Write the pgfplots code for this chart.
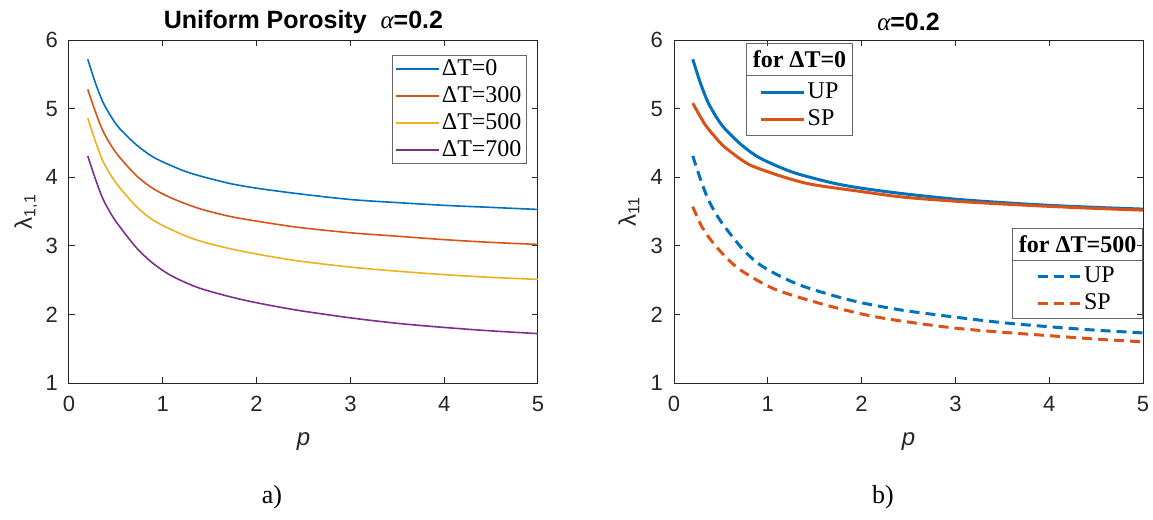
\documentclass[border=0pt]{standalone}
\usepackage{fontspec}
\setmainfont{Liberation Sans}
\newfontfamily\serif{Liberation Serif}
\usepackage{pgfplots}
\pgfplotsset{compat=1.18}
\definecolor{mb}{rgb}{0,0.447,0.741}
\definecolor{mo}{rgb}{0.85,0.325,0.098}
\definecolor{my}{rgb}{0.929,0.694,0.125}
\definecolor{mp}{rgb}{0.494,0.184,0.556}
\definecolor{ax}{rgb}{0.15,0.15,0.15}
\definecolor{lg}{rgb}{0.4,0.4,0.4}
\pgfplotsset{common/.style={
  scale only axis, width=234.5pt, height=171.5pt, anchor=south west,
  xmin=0, xmax=5, ymin=1, ymax=6, xtick={0,...,5}, ytick={1,...,6},
  tick align=inside, major tick length=3pt,
  axis line style={ax, line width=0.5pt},
  every tick/.style={ax, line width=0.5pt},
  /pgf/number format/assume math mode=true,
  tick label style={font=\fontsize{11}{13}\selectfont, text=ax},
  xticklabel style={yshift=-3pt},
  yticklabel style={xshift=-2pt},
  xlabel style={font=\fontsize{12}{14}\selectfont, text=ax, at={(axis description cs:0.5,0)}, anchor=center, yshift=-29.5pt},
  every axis title shift=0pt,
  title style={font=\bfseries\fontsize{12.5}{15}\selectfont, at={(axis description cs:0.5,1)}, anchor=center, yshift=9pt},
  legend image code/.code={\draw[##1] (0pt,0pt) -- (21.5pt,0pt);},
  legend style={font=\serif\fontsize{12}{14}\selectfont, draw=lg, line width=0.5pt,
    inner xsep=1.5pt, inner ysep=0pt,
    nodes={inner xsep=1pt, inner ysep=1.25pt, text height=8.5pt, text depth=2.5pt},
    cells={anchor=west}},
}}
\begin{document}
\begin{tikzpicture}
\useasboundingbox (0,0) rectangle (576.5pt,-260pt);
% ---------- left ----------
\begin{axis}[common, at={(34.5pt,-191.5pt)},
  title={Uniform Porosity\ \ {\serif\mdseries\itshape α}=0.2},
  xlabel={\textit{p}},
  ylabel={λ\textsubscript{1,1}},
  ylabel style={font=\fontsize{12}{14}\selectfont, text=ax, at={(axis description cs:0,0.5)}, anchor=center, yshift=21.5pt},
  legend style={at={(1,1)}, anchor=north east, xshift=-5.5pt, yshift=-7.5pt},
  every axis plot/.append style={line width=0.8pt, smooth}]
\addplot[mb] coordinates {(0.2,5.72)(0.28,5.38)(0.36,5.10)(0.45,4.88)(0.54,4.71)(0.72,4.47)(0.89,4.30)(1.07,4.18)(1.25,4.08)(1.42,4.01)(1.71,3.91)(2,3.84)(2.44,3.76)(3,3.675)(3.5,3.63)(4,3.59)(4.5,3.56)(5,3.53)};
\addlegendentry{ΔT=0}
\addplot[mo] coordinates {(0.2,5.28)(0.28,4.96)(0.36,4.68)(0.45,4.46)(0.54,4.29)(0.72,4.02)(0.89,3.84)(1.07,3.71)(1.25,3.61)(1.42,3.53)(1.71,3.43)(2,3.36)(2.44,3.27)(3,3.19)(3.5,3.14)(4,3.09)(4.5,3.05)(5,3.02)};
\addlegendentry{ΔT=300}
\addplot[my] coordinates {(0.2,4.86)(0.28,4.53)(0.36,4.24)(0.45,4.02)(0.54,3.85)(0.72,3.57)(0.89,3.38)(1.07,3.25)(1.25,3.14)(1.42,3.06)(1.71,2.96)(2,2.88)(2.44,2.78)(3,2.69)(3.5,2.63)(4,2.58)(4.5,2.54)(5,2.51)};
\addlegendentry{ΔT=500}
\addplot[mp] coordinates {(0.2,4.31)(0.28,3.98)(0.36,3.69)(0.45,3.46)(0.54,3.28)(0.72,2.97)(0.89,2.75)(1.07,2.58)(1.25,2.46)(1.42,2.37)(1.71,2.26)(2,2.17)(2.44,2.06)(3,1.95)(3.5,1.87)(4,1.81)(4.5,1.76)(5,1.72)};
\addlegendentry{ΔT=700}
\end{axis}
% ---------- right, solid ----------
\begin{axis}[common, at={(337pt,-191.5pt)},
  title={{\serif\mdseries\itshape α}=0.2},
  xlabel={\textit{p}},
  ylabel={λ\textsubscript{11}},
  ylabel style={font=\fontsize{12}{14}\selectfont, text=ax, at={(axis description cs:0,0.5)}, anchor=center, yshift=22.5pt},
  legend style={at={(0.2687,0.8066)}, anchor=center, draw=none, fill=none},
  every axis plot/.append style={line width=1.5pt, smooth}]
\addplot[mb] coordinates {(0.2,5.72)(0.28,5.38)(0.36,5.10)(0.45,4.88)(0.54,4.71)(0.72,4.47)(0.89,4.30)(1.07,4.18)(1.25,4.08)(1.42,4.01)(1.71,3.91)(2,3.84)(2.44,3.76)(3,3.68)(3.5,3.63)(4,3.59)(4.5,3.56)(5,3.535)};
\addlegendentry{UP}
\addplot[mo] coordinates {(0.2,5.08)(0.325,4.78)(0.43,4.60)(0.54,4.44)(0.78,4.20)(1,4.08)(1.25,3.97)(1.49,3.89)(2,3.79)(2.44,3.71)(3,3.65)(3.5,3.61)(4,3.575)(4.5,3.545)(5,3.52)};
\addlegendentry{SP}
\end{axis}
% ---------- right, dashed ----------
\begin{axis}[common, at={(337pt,-191.5pt)}, hide axis,
  legend style={at={(0.8582,0.2701)}, anchor=center, draw=none, fill=none},
  every axis plot/.append style={line width=1.5pt, smooth, dash pattern=on 5pt off 3pt}]
\addplot[mb] coordinates {(0.2,4.31)(0.28,3.98)(0.36,3.69)(0.45,3.46)(0.54,3.28)(0.72,2.97)(0.89,2.75)(1.07,2.60)(1.25,2.48)(1.42,2.39)(1.71,2.27)(2,2.17)(2.44,2.06)(3,1.96)(3.5,1.88)(4,1.82)(4.5,1.77)(5,1.73)};
\addlegendentry{UP}
\addplot[mo] coordinates {(0.2,3.57)(0.3,3.27)(0.43,3.02)(0.6,2.77)(0.75,2.61)(1.07,2.37)(1.53,2.17)(2.02,2.0)(2.44,1.90)(3,1.80)(3.5,1.74)(4,1.69)(4.5,1.64)(5,1.60)};
\addlegendentry{SP}
\end{axis}
% legend frames with titles
\draw[lg, line width=0.5pt] (373.35pt,-21.65pt) rectangle (426.15pt,-67.5pt);
\draw[lg, line width=0.5pt] (373.35pt,-37.5pt) -- (426.15pt,-37.5pt);
\node[font=\serif\bfseries\fontsize{12}{14}\selectfont, inner sep=0pt] at (399.75pt,-29.6pt) {for ΔT=0};
\draw[lg, line width=0.5pt] (506.35pt,-114.25pt) rectangle (571.25pt,-159pt);
\draw[lg, line width=0.5pt] (506.35pt,-130.25pt) -- (571.25pt,-130.25pt);
\node[font=\serif\bfseries\fontsize{12}{14}\selectfont, inner sep=0pt] at (538.8pt,-122.25pt) {for ΔT=500};
% sub captions
\node[font=\serif\fontsize{13}{15}\selectfont] at (136pt,-248.5pt) {a)};
\node[font=\serif\fontsize{13}{15}\selectfont] at (441.5pt,-248.5pt) {b)};
\end{tikzpicture}
\end{document}
